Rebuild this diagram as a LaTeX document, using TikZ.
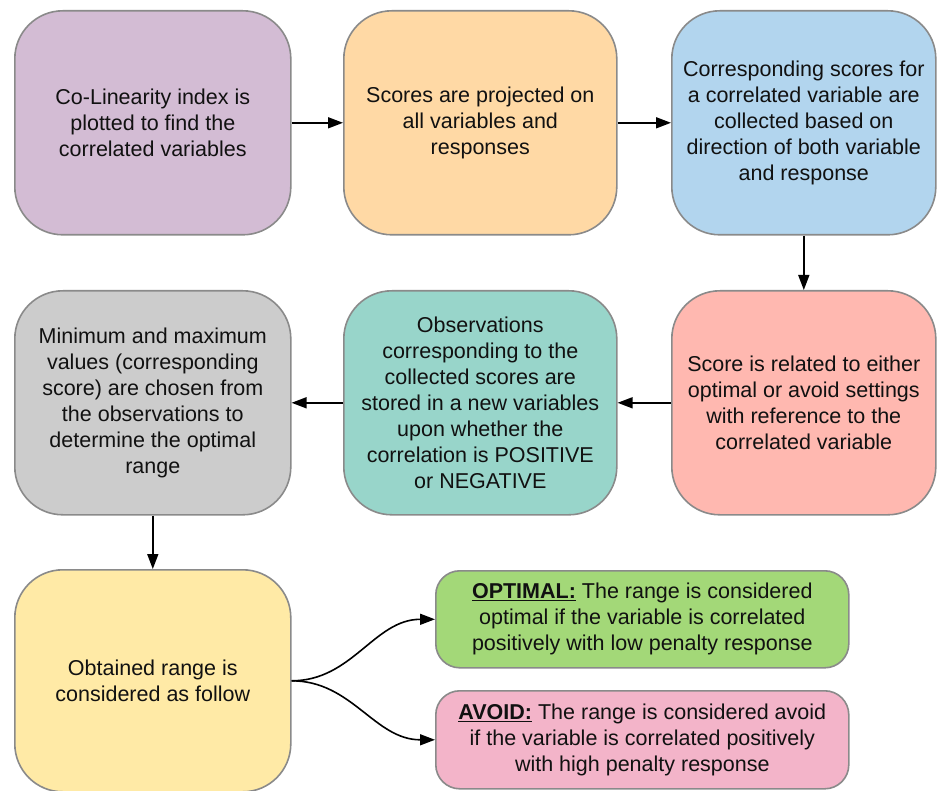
\documentclass[tikz,border=0pt]{standalone}
\usepackage{fontspec}
\setmainfont{Liberation Sans}
\usetikzlibrary{arrows.meta}
\definecolor{cpurple}{HTML}{D3BCD4}
\definecolor{corange}{HTML}{FFD9A5}
\definecolor{cblue}{HTML}{B2D5EE}
\definecolor{csalmon}{HTML}{FFB8B0}
\definecolor{cteal}{HTML}{98D5CA}
\definecolor{cgray}{HTML}{CCCCCC}
\definecolor{cyellow}{HTML}{FFEAA6}
\definecolor{cgreen}{HTML}{A3D878}
\definecolor{cpink}{HTML}{F3B4C9}
\definecolor{cborder}{HTML}{8A8A8A}
\definecolor{ctext}{HTML}{111111}
\tikzset{
  bigbox/.style={draw=cborder, line width=1.6pt, rounded corners=48pt,
    minimum width=276pt, minimum height=224pt, anchor=north west,
    align=center, inner sep=0pt, text=ctext,
    font=\fontsize{21.5}{26}\selectfont},
  smallbox/.style={draw=cborder, line width=1.6pt, rounded corners=24pt,
    minimum width=413pt, minimum height=97pt, anchor=north west,
    align=center, inner sep=0pt, text=ctext,
    font=\fontsize{21.5}{26}\selectfont},
  flow/.style={line width=1.6pt, -{Triangle[length=15pt,width=11pt]}}
}
\begin{document}
\begin{tikzpicture}[x=1pt,y=-1pt]
\useasboundingbox (0,0) rectangle (937,791);
% first row
\node[bigbox, fill=cpurple] (colin) at (14,10)
  {Co-Linearity index is\\plotted to find the\\correlated variables};
\node[bigbox, fill=corange, minimum width=273pt] (proj) at (343,10)
  {Scores are projected on\\all variables and\\responses};
\node[bigbox, fill=cblue, minimum width=264pt] (collect) at (671,10)
  {Corresponding scores for\\a correlated variable are\\collected based on\\direction of both variable\\and response};
% second row
\node[bigbox, fill=csalmon, minimum width=264pt] (relate) at (671,290)
  {Score is related to either\\optimal or avoid settings\\with reference to the\\correlated variable};
\node[bigbox, fill=cteal, minimum width=273pt] (obs) at (343,290)
  {Observations\\corresponding to the\\collected scores are\\stored in a new variables\\upon whether the\\correlation is POSITIVE\\or NEGATIVE};
\node[bigbox, fill=cgray] (minmax) at (14,290)
  {Minimum and maximum\\values (corresponding\\score) are chosen from\\the observations to\\determine the optimal\\range};
% third row
\node[bigbox, fill=cyellow, minimum height=222pt] (range) at (14,569)
  {Obtained range is\\considered as follow};
\node[smallbox, fill=cgreen] (optimal) at (435,570)
  {\underline{\textbf{OPTIMAL:}} The range is considered\\optimal if the variable is correlated\\positively with low penalty response};
\node[smallbox, fill=cpink, minimum height=98pt] (avoid) at (435,690)
  {\underline{\textbf{AVOID:}} The range is considered avoid\\if the variable is correlated positively\\with high penalty response};
% connectors
\draw[flow] (colin) -- (proj);
\draw[flow] (proj) -- (collect);
\draw[flow] (collect) -- (relate);
\draw[flow] (relate) -- (obs);
\draw[flow] (obs) -- (minmax);
\draw[flow] (minmax) -- (range);
\draw[flow] (range.east) to[out=0, in=180] (optimal.west);
\draw[flow] (range.east) to[out=0, in=180] (avoid.west);
\end{tikzpicture}
\end{document}
